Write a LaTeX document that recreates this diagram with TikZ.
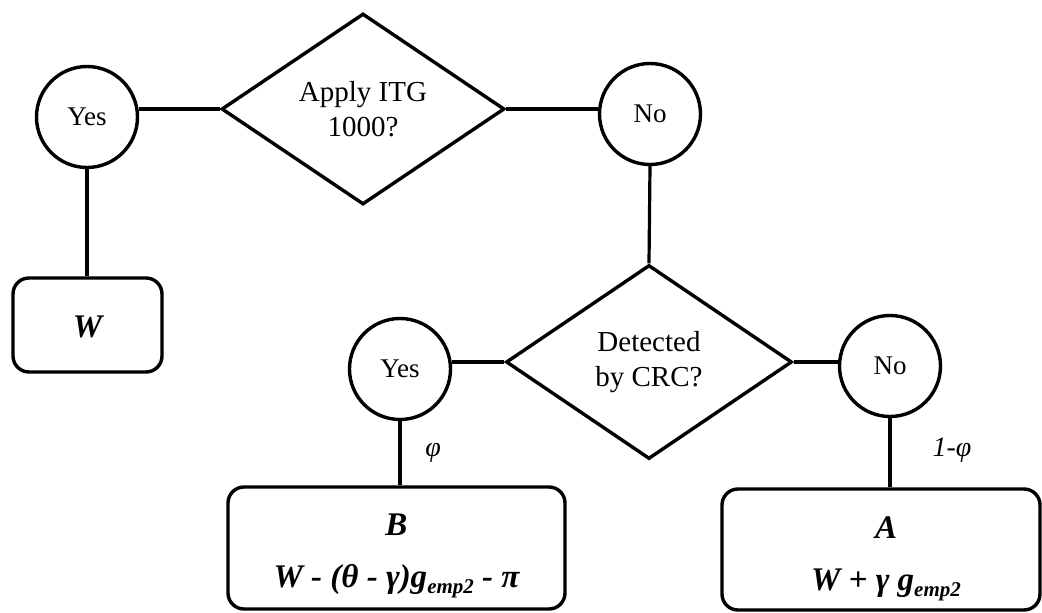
\documentclass[tikz,border=0pt]{standalone}
\usepackage{fontspec}
\setmainfont{LiberationSerif}[Extension=.ttf,UprightFont=*-Regular,BoldFont=*-Bold,ItalicFont=*-Italic,BoldItalicFont=*-BoldItalic]
\usetikzlibrary{shapes.geometric}
\begin{document}
\begin{tikzpicture}[x=1pt,y=-1pt,
  line width=3.2pt,
  choice/.style={circle,draw,line width=3.4pt,minimum size=101pt,inner sep=0pt,font=\fontsize{27}{30}\selectfont},
  decide/.style={diamond,draw,line width=3.4pt,inner sep=0pt,align=center,font=\fontsize{29}{35}\selectfont},
  outcome/.style={rectangle,rounded corners=16pt,draw,line width=3.4pt,inner sep=0pt},
  outtext/.style={align=center,inner sep=0pt,font=\fontsize{33}{36}\selectfont\bfseries\itshape},
  prob/.style={font=\fontsize{28}{30}\selectfont\itshape}]
\newcommand{\subemp}{{\fontsize{21}{22}\selectfont\raisebox{-6pt}{emp2}}}
\useasboundingbox (0,0) rectangle (1042,613);
\node[decide,minimum width=283pt,minimum height=191pt] (d1) at (363,109) {Apply ITG\\1000?};
\node[choice] (yes1) at (87,117) {Yes};
\node[choice] (no1) at (650,114) {No};
\node[outcome,minimum width=149pt,minimum height=94pt] (W) at (87.5,325) {};
\node[outtext] (Wt) at (87.5,327) {W};
\node[decide,minimum width=286pt,minimum height=194pt] (d2) at (649,362) {Detected\\by CRC?};
\node[choice] (yes2) at (400,369) {Yes};
\node[choice] (no2) at (890,366) {No};
\node[outcome,minimum width=337pt,minimum height=122pt] (B) at (396.5,548) {};
\node[outtext] (Bt) at (396.5,556) {B\\[16pt] W - (θ - γ)g\subemp{} - π};
\node[outcome,minimum width=318pt,minimum height=121pt] (A) at (881,549.5) {};
\node[outtext] (At) at (886,559) {A\\[16pt] W + γ g\subemp};
\node[prob] (phi) at (433,453) {φ};
\node[prob] (phi2) at (952,450) {1-φ};
\draw (d1.west) -- (d1.west -| yes1.east);
\draw (d1.east) -- (d1.east -| no1.west);
\draw (yes1.south) -- (yes1.south |- W.north);
\draw (no1.south) -- (d2.north);
\draw (d2.west) -- (d2.west -| yes2.east);
\draw (d2.east) -- (d2.east -| no2.west);
\draw (yes2.south) -- (yes2.south |- B.north);
\draw (no2.south) -- (no2.south |- A.north);
\end{tikzpicture}
\end{document}
